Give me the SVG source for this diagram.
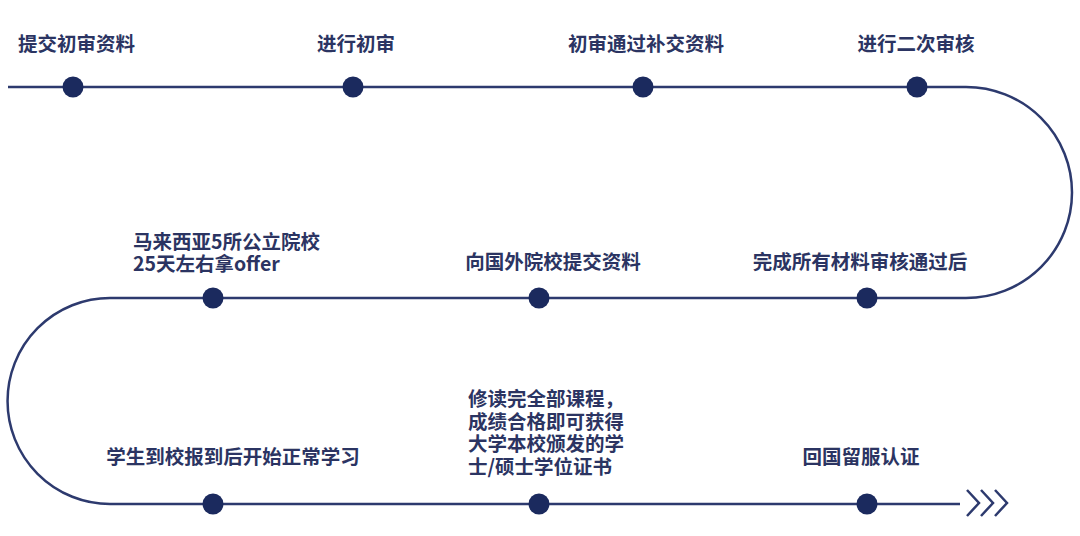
<svg xmlns="http://www.w3.org/2000/svg" width="1080" height="536" viewBox="0 0 1080 536">
<style>
.t{font-family:"Noto Sans CJK SC","Noto Sans",sans-serif;font-size:19.5px;font-weight:bold;fill:#2b3462;dominant-baseline:central}
.c{text-anchor:middle}
.dot{fill:#1b2a5e}
.ln{fill:none;stroke:#2d3a6e;stroke-width:2.5}
</style>
<g id="connectors">
<path class="ln" d="M 8 87 H 966 A 106 105.5 0 0 1 966 298 H 110 A 102.5 103 0 0 0 110 504 H 960"/>
<path class="ln" d="M 967 490 L 979 503 L 967 516 M 981 490 L 993 503 L 981 516 M 995 490 L 1007 503 L 995 516"/>
</g>
<g id="n1"><circle class="dot" cx="73" cy="87" r="10.5"/><text class="t" x="18" y="42">提交初审资料</text></g>
<g id="n2"><circle class="dot" cx="353" cy="87" r="10.5"/><text class="t c" x="356" y="42">进行初审</text></g>
<g id="n3"><circle class="dot" cx="643" cy="87" r="10.5"/><text class="t c" x="646" y="42">初审通过补交资料</text></g>
<g id="n4"><circle class="dot" cx="917" cy="87" r="10.5"/><text class="t c" x="916" y="42">进行二次审核</text></g>
<g id="n5"><circle class="dot" cx="867" cy="298" r="10.5"/><text class="t c" x="860" y="260">完成所有材料审核通过后</text></g>
<g id="n6"><circle class="dot" cx="539" cy="298" r="10.5"/><text class="t c" x="553" y="260">向国外院校提交资料</text></g>
<g id="n7"><circle class="dot" cx="213" cy="298" r="10.5"/><text class="t" x="133" y="240">马来西亚5所公立院校<tspan x="133" dy="22">25天左右拿offer</tspan></text></g>
<g id="n8"><circle class="dot" cx="213" cy="504" r="10.5"/><text class="t c" x="233" y="455">学生到校报到后开始正常学习</text></g>
<g id="n9"><circle class="dot" cx="539" cy="504" r="10.5"/><text class="t" x="468" y="397">修读完全部课程，<tspan x="468" dy="22.7">成绩合格即可获得</tspan><tspan x="468" dy="22.7">大学本校颁发的学</tspan><tspan x="468" dy="22.7">士/硕士学位证书</tspan></text></g>
<g id="n10"><circle class="dot" cx="867" cy="504" r="10.5"/><text class="t c" x="861" y="455">回国留服认证</text></g>
</svg>
